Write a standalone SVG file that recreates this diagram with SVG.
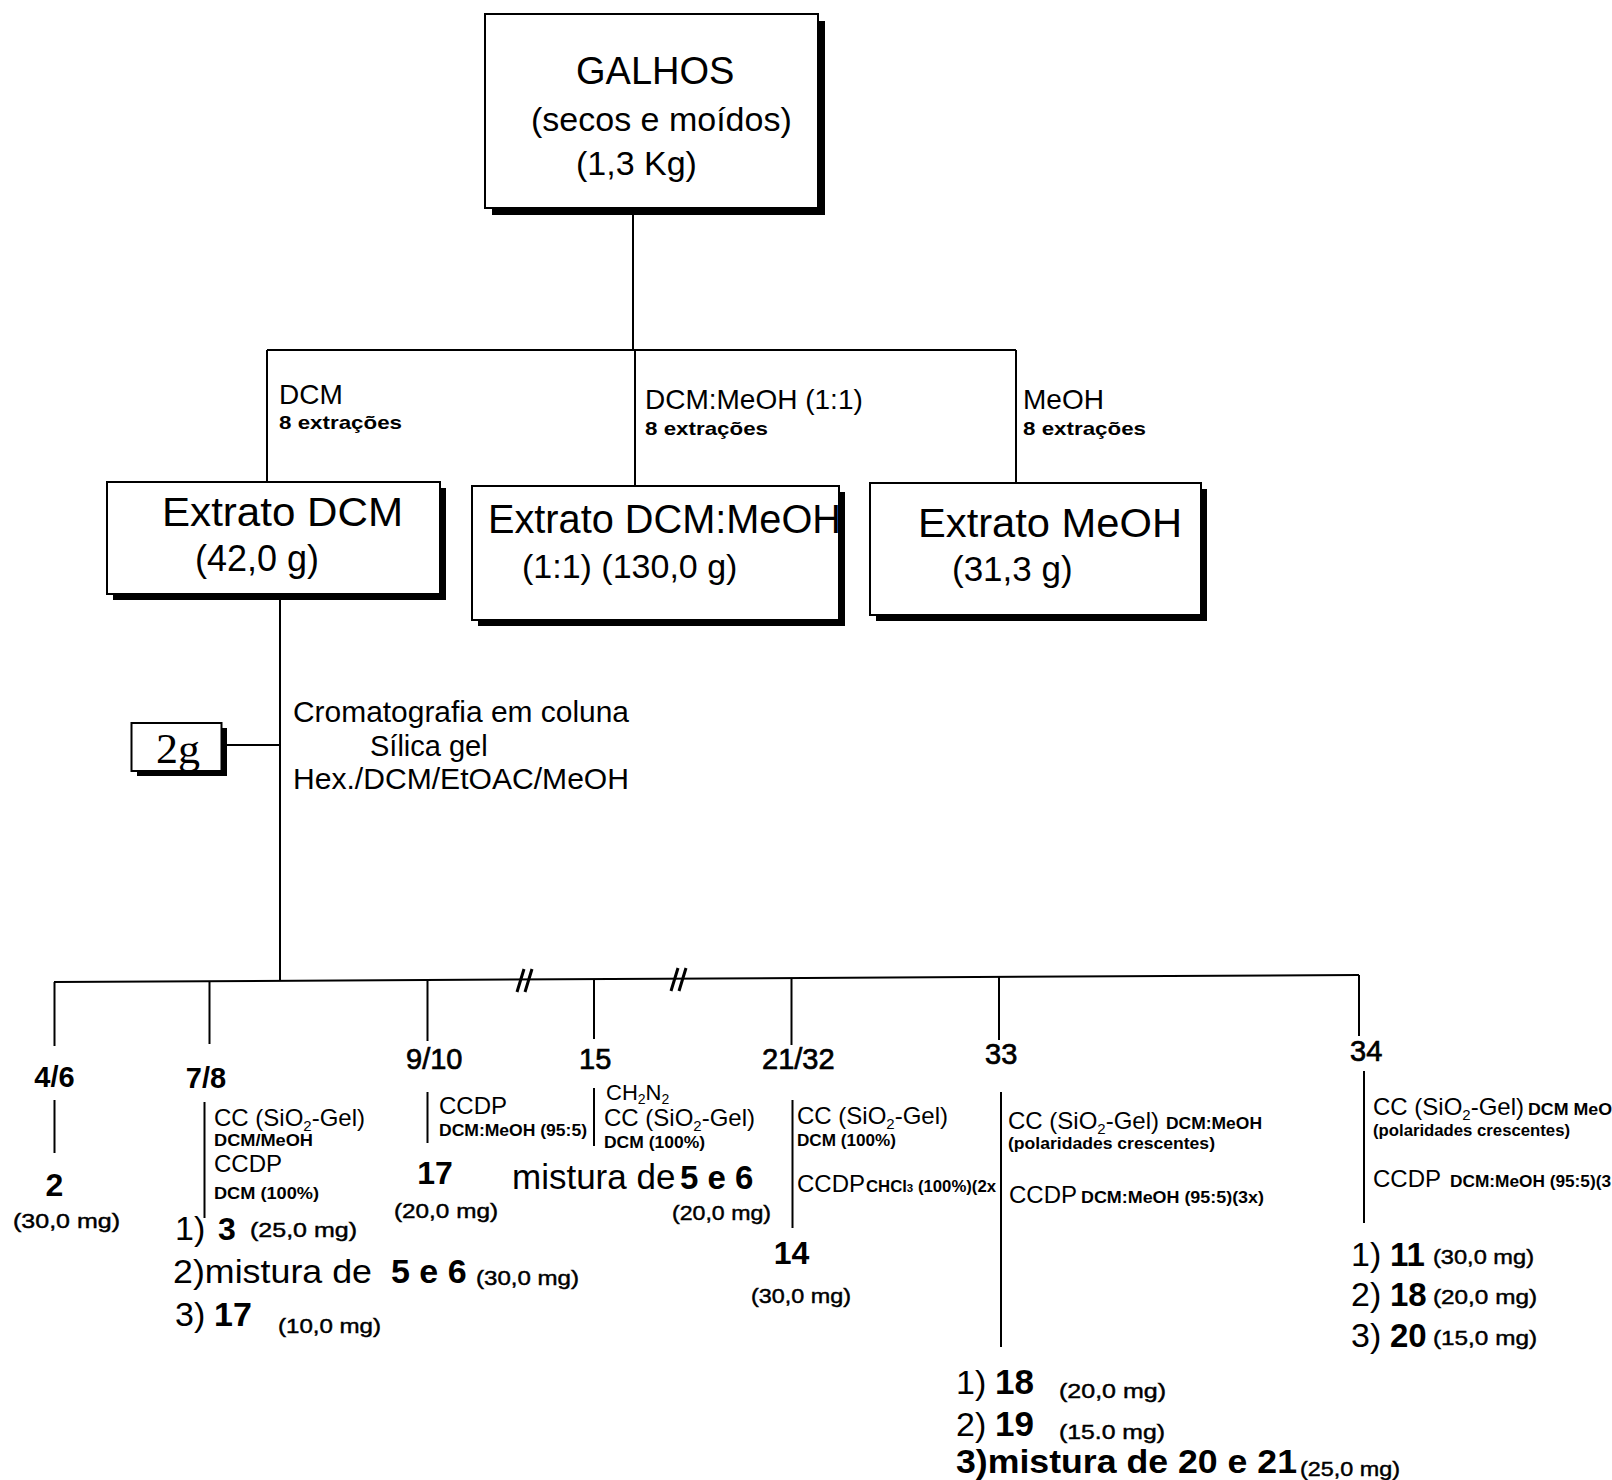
<svg xmlns="http://www.w3.org/2000/svg" width="1612" height="1480" viewBox="0 0 1612 1480">
  <style>
    text { font-family: "Liberation Sans", Arial, sans-serif; fill: #000; }
    .ln { stroke: #000; stroke-width: 2; fill: none; }
    .brk { stroke: #000; stroke-width: 3; fill: none; }
    .box { fill: #fff; stroke: #000; stroke-width: 2; }
    .sh { fill: #000; }
    .b { font-weight: bold; }
    .t1 { font-size: 38px; }
    .t2 { font-size: 34px; }
    .big { font-size: 41px; }
    .lab { font-size: 28px; }
    .sm { font-size: 16px; font-weight: bold; }
    .ext { font-size: 19px; font-weight: bold; }
    .mid { font-size: 24px; }
    .fr { font-size: 29px; }
    .med { stroke: #000; stroke-width: 0.7; }
    .mg { font-size: 21px; stroke: #000; stroke-width: 0.45; }
    .res { font-size: 34px; }
    .serif { font-family: "Liberation Serif", "Times New Roman", serif; }
  </style>

  <!-- connectors -->
  <g id="connectors">
    <path class="ln" d="M633,207 V350"/>
    <path class="ln" d="M267,350 H1016"/>
    <path class="ln" d="M267,350 V482"/>
    <path class="ln" d="M635,350 V486"/>
    <path class="ln" d="M1016,350 V483"/>
    <path class="ln" d="M280,600 V981"/>
    <path class="ln" d="M224,745 H280"/>
    <path class="ln" d="M54,982 L1359,975"/>
    <!-- break marks on the fraction bar -->
    <path class="brk" d="M517,992 L524,969 M525,992 L532,969"/>
    <path class="brk" d="M671,991 L678,968 M679,991 L686,968"/>
    <!-- fraction drops -->
    <path class="ln" d="M54.5,982 V1046"/>
    <path class="ln" d="M209.5,981 V1044"/>
    <path class="ln" d="M427.5,980 V1041"/>
    <path class="ln" d="M594,979 V1039"/>
    <path class="ln" d="M791.5,978 V1045"/>
    <path class="ln" d="M999,977 V1040"/>
    <path class="ln" d="M1359,975 V1036"/>
    <!-- process lines -->
    <path class="ln" d="M54.5,1100 V1153"/>
    <path class="ln" d="M204.5,1102 V1218"/>
    <path class="ln" d="M427.5,1092 V1143"/>
    <path class="ln" d="M594,1088 V1146"/>
    <path class="ln" d="M792.5,1100 V1228"/>
    <path class="ln" d="M1001,1092 V1347"/>
    <path class="ln" d="M1364,1071 V1223"/>
  </g>

  <!-- raw material -->
  <g id="galhos">
    <rect class="sh" x="492" y="21" width="333" height="194"/>
    <rect class="box" x="485" y="14" width="333" height="194"/>
    <text class="t1" x="576" y="84">GALHOS</text>
    <text class="t2" x="531" y="131">(secos e moídos)</text>
    <text class="t2" x="576" y="175">(1,3 Kg)</text>
  </g>

  <!-- solvent labels -->
  <g id="solvents">
    <text class="lab" x="279" y="404">DCM</text>
    <text class="ext" x="279" y="429" textLength="123" lengthAdjust="spacingAndGlyphs">8 extrações</text>
    <text class="lab" x="645" y="409">DCM:MeOH (1:1)</text>
    <text class="ext" x="645" y="435" textLength="123" lengthAdjust="spacingAndGlyphs">8 extrações</text>
    <text class="lab" x="1023" y="409">MeOH</text>
    <text class="ext" x="1023" y="435" textLength="123" lengthAdjust="spacingAndGlyphs">8 extrações</text>
  </g>

  <!-- extracts -->
  <g id="extrato-dcm">
    <rect class="sh" x="113" y="488" width="333" height="112"/>
    <rect class="box" x="107" y="482" width="333" height="112"/>
    <text class="big" x="162" y="526" textLength="241" lengthAdjust="spacingAndGlyphs">Extrato DCM</text>
    <text style="font-size:36px" x="195" y="571">(42,0 g)</text>
  </g>
  <g id="extrato-dcm-meoh">
    <rect class="sh" x="478" y="492" width="367" height="134"/>
    <rect class="box" x="472" y="486" width="367" height="134"/>
    <text class="big" x="488" y="533" textLength="353" lengthAdjust="spacingAndGlyphs">Extrato DCM:MeOH</text>
    <text style="font-size:34px" x="522" y="578">(1:1) (130,0 g)</text>
  </g>
  <g id="extrato-meoh">
    <rect class="sh" x="876" y="489" width="331" height="132"/>
    <rect class="box" x="870" y="483" width="331" height="132"/>
    <text class="big" x="918" y="537" textLength="264" lengthAdjust="spacingAndGlyphs">Extrato MeOH</text>
    <text style="font-size:35px" x="952" y="581">(31,3 g)</text>
  </g>

  <!-- column chromatography -->
  <g id="amostra-2g">
    <rect class="sh" x="137" y="728" width="90" height="48"/>
    <rect class="box" x="131.5" y="723" width="90" height="48"/>
    <text class="serif" style="font-size:42px" x="156" y="763" textLength="44" lengthAdjust="spacingAndGlyphs">2g</text>
  </g>
  <g id="coluna">
    <text class="fr" x="293" y="722" textLength="336" lengthAdjust="spacingAndGlyphs">Cromatografia em coluna</text>
    <text class="fr" x="370" y="756">Sílica gel</text>
    <text class="fr" x="293" y="789" textLength="336" lengthAdjust="spacingAndGlyphs">Hex./DCM/EtOAC/MeOH</text>
  </g>

  <!-- fraction 4/6 -->
  <g id="fr-4-6">
    <text class="fr b" x="54.5" y="1087" text-anchor="middle">4/6</text>
    <text class="b" style="font-size:32px" x="54.5" y="1196" text-anchor="middle">2</text>
    <text class="mg" x="13" y="1228" textLength="107" lengthAdjust="spacingAndGlyphs">(30,0 mg)</text>
  </g>

  <!-- fraction 7/8 -->
  <g id="fr-7-8">
    <text class="fr b" x="206" y="1088" text-anchor="middle">7/8</text>
    <text class="mid" x="214" y="1126">CC (SiO<tspan font-size="15" dy="5">2</tspan><tspan dy="-5">-Gel)</tspan></text>
    <text class="sm" x="214" y="1146" textLength="99" lengthAdjust="spacingAndGlyphs">DCM/MeOH</text>
    <text class="mid" x="214" y="1172">CCDP</text>
    <text class="sm" x="214" y="1199" textLength="105" lengthAdjust="spacingAndGlyphs">DCM (100%)</text>
    <text class="res" x="175" y="1240">1)</text>
    <text class="b" style="font-size:32px" x="218" y="1240">3</text>
    <text class="mg" x="250" y="1237" textLength="107" lengthAdjust="spacingAndGlyphs">(25,0 mg)</text>
    <text class="res" x="173" y="1283" textLength="199" lengthAdjust="spacingAndGlyphs">2)mistura de</text>
    <text class="b" style="font-size:34px" x="391" y="1283">5 e 6</text>
    <text class="mg" x="476" y="1285" textLength="103" lengthAdjust="spacingAndGlyphs">(30,0 mg)</text>
    <text class="res" x="175" y="1326">3)</text>
    <text class="b" style="font-size:34px" x="214" y="1326">17</text>
    <text class="mg" x="278" y="1333" textLength="103" lengthAdjust="spacingAndGlyphs">(10,0 mg)</text>
  </g>

  <!-- fraction 9/10 -->
  <g id="fr-9-10">
    <text class="fr med" x="406" y="1069">9/10</text>
    <text class="mid" x="439" y="1114">CCDP</text>
    <text class="sm" x="439" y="1136" textLength="148" lengthAdjust="spacingAndGlyphs">DCM:MeOH (95:5)</text>
    <text class="b" style="font-size:32px" x="435" y="1184" text-anchor="middle">17</text>
    <text class="mg" x="394" y="1218" textLength="104" lengthAdjust="spacingAndGlyphs">(20,0 mg)</text>
  </g>

  <!-- fraction 15 -->
  <g id="fr-15">
    <text class="fr med" x="579" y="1069">15</text>
    <text style="font-size:22px" x="606" y="1100">CH<tspan font-size="14" dy="4">2</tspan><tspan dy="-4">N</tspan><tspan font-size="14" dy="4">2</tspan></text>
    <text class="mid" x="604" y="1126">CC (SiO<tspan font-size="15" dy="5">2</tspan><tspan dy="-5">-Gel)</tspan></text>
    <text class="sm" x="604" y="1148" textLength="101" lengthAdjust="spacingAndGlyphs">DCM (100%)</text>
    <text style="font-size:35px" x="512" y="1189">mistura de</text>
    <text class="b" style="font-size:33px" x="680" y="1189">5 e 6</text>
    <text class="mg" x="672" y="1220" textLength="99" lengthAdjust="spacingAndGlyphs">(20,0 mg)</text>
  </g>

  <!-- fraction 21/32 -->
  <g id="fr-21-32">
    <text class="fr med" x="762" y="1069">21/32</text>
    <text class="mid" x="797" y="1124">CC (SiO<tspan font-size="15" dy="5">2</tspan><tspan dy="-5">-Gel)</tspan></text>
    <text class="sm" x="797" y="1146" textLength="99" lengthAdjust="spacingAndGlyphs">DCM (100%)</text>
    <text class="mid" x="797" y="1192">CCDP</text>
    <text class="sm" x="866" y="1192" textLength="130" lengthAdjust="spacingAndGlyphs">CHCl<tspan font-size="11">3</tspan> (100%)(2x</text>
    <text class="b" style="font-size:32px" x="791.5" y="1264" text-anchor="middle">14</text>
    <text class="mg" x="751" y="1303" textLength="100" lengthAdjust="spacingAndGlyphs">(30,0 mg)</text>
  </g>

  <!-- fraction 33 -->
  <g id="fr-33">
    <text class="fr med" x="985" y="1064">33</text>
    <text class="mid" x="1008" y="1129">CC (SiO<tspan font-size="15" dy="5">2</tspan><tspan dy="-5">-Gel)</tspan></text>
    <text class="sm" x="1166" y="1129" textLength="96" lengthAdjust="spacingAndGlyphs">DCM:MeOH</text>
    <text class="sm" x="1008" y="1149" textLength="207" lengthAdjust="spacingAndGlyphs">(polaridades crescentes)</text>
    <text class="mid" x="1009" y="1203">CCDP</text>
    <text class="sm" x="1081" y="1203" textLength="183" lengthAdjust="spacingAndGlyphs">DCM:MeOH (95:5)(3x)</text>
    <text class="res" x="956" y="1394">1)</text>
    <text class="b" style="font-size:35px" x="995" y="1394">18</text>
    <text class="mg" x="1059" y="1398" textLength="107" lengthAdjust="spacingAndGlyphs">(20,0 mg)</text>
    <text class="res" x="956" y="1436">2)</text>
    <text class="b" style="font-size:35px" x="995" y="1436">19</text>
    <text class="mg" x="1059" y="1439" textLength="106" lengthAdjust="spacingAndGlyphs">(15.0 mg)</text>
    <text class="b" style="font-size:34px" x="956" y="1473" textLength="341" lengthAdjust="spacingAndGlyphs">3)mistura de 20 e 21</text>
    <text class="mg" x="1300" y="1476" textLength="100" lengthAdjust="spacingAndGlyphs">(25,0 mg)</text>
  </g>

  <!-- fraction 34 -->
  <g id="fr-34">
    <text class="fr med" x="1350" y="1061">34</text>
    <text class="mid" x="1373" y="1115">CC (SiO<tspan font-size="15" dy="5">2</tspan><tspan dy="-5">-Gel)</tspan></text>
    <text class="sm" x="1528" y="1115" textLength="84" lengthAdjust="spacingAndGlyphs">DCM MeO</text>
    <text class="sm" x="1373" y="1136" textLength="197" lengthAdjust="spacingAndGlyphs">(polaridades crescentes)</text>
    <text class="mid" x="1373" y="1187">CCDP</text>
    <text class="sm" x="1450" y="1187" textLength="161" lengthAdjust="spacingAndGlyphs">DCM:MeOH (95:5)(3</text>
    <text class="res" x="1351" y="1266">1)</text>
    <text class="b" style="font-size:33px" x="1390" y="1266">11</text>
    <text class="mg" x="1433" y="1264" textLength="101" lengthAdjust="spacingAndGlyphs">(30,0 mg)</text>
    <text class="res" x="1351" y="1306">2)</text>
    <text class="b" style="font-size:33px" x="1390" y="1306">18</text>
    <text class="mg" x="1433" y="1304" textLength="104" lengthAdjust="spacingAndGlyphs">(20,0 mg)</text>
    <text class="res" x="1351" y="1347">3)</text>
    <text class="b" style="font-size:33px" x="1390" y="1347">20</text>
    <text class="mg" x="1433" y="1345" textLength="104" lengthAdjust="spacingAndGlyphs">(15,0 mg)</text>
  </g>
</svg>
